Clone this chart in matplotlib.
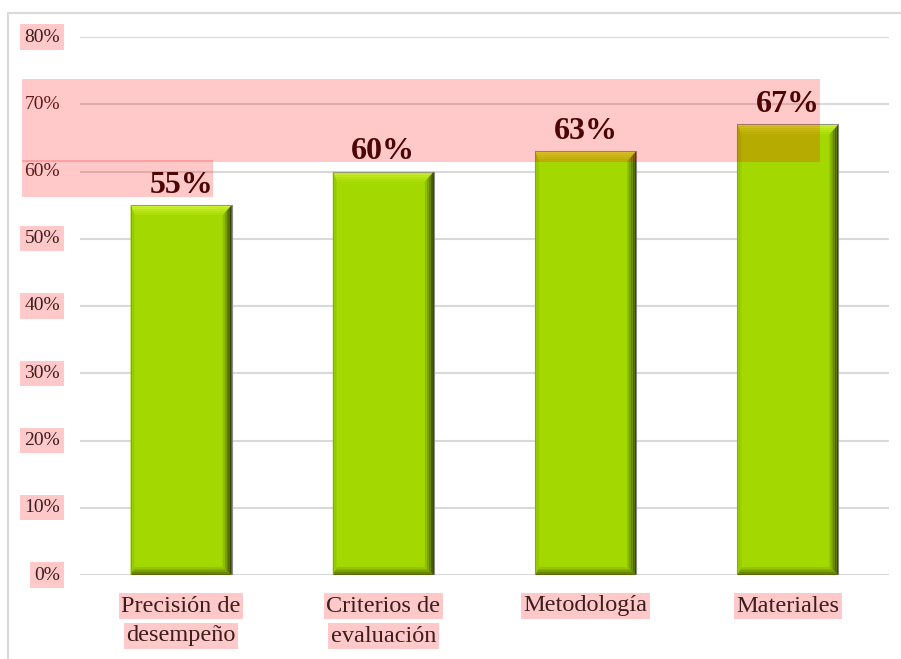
import numpy as np
import matplotlib
matplotlib.use('Agg')
import matplotlib.pyplot as plt
from matplotlib.patches import Polygon, Rectangle
from matplotlib.colors import to_rgb

categories = ['Precisión de\ndesempeño', 'Criterios de\nevaluación', 'Metodología', 'Materiales']
values = [0.55, 0.60, 0.63, 0.67]
value_labels = ['55%', '60%', '63%', '67%']
y_ticks = [0, 0.1, 0.2, 0.3, 0.4, 0.5, 0.6, 0.7, 0.8]
y_tick_labels = ['0%', '10%', '20%', '30%', '40%', '50%', '60%', '70%', '80%']

W, H = 901, 659
PINK = '#ffc9c9'
SERIF = ['Liberation Serif', 'DejaVu Serif']

fig = plt.figure(figsize=(W / 100, H / 100), dpi=100)
ax = fig.add_axes([80 / W, 1 - 575 / H, (889 - 80) / W, (575 - 37) / H])

# outer frame of the chart area (only top and left edges show)
fig.add_artist(Rectangle((8 / W, -0.05), 1.2, 1 - 13 / H + 0.05, transform=fig.transFigure,
                         facecolor='none', edgecolor='#d9d9d9', lw=1.5))

x = np.arange(len(categories))
bar_w = 0.5
ax.bar(x, values, width=bar_w, color='#a3d900', edgecolor='#9a9a9a', lw=0.8, zorder=3)

ax.set_xlim(-0.5, len(categories) - 0.5)
ax.set_ylim(0, 0.8)

# pixel sizes in data units, used for the bevel
px_x = len(categories) / (889 - 80)
px_y = 0.8 / (575 - 37)


def mix(c1, c2, t):
    a, b = np.array(to_rgb(c1)), np.array(to_rgb(c2))
    return tuple(a + (b - a) * t)


def bevel(xc, h):
    x0, x1 = xc - bar_w / 2, xc + bar_w / 2
    y0, y1 = 0, h
    bt, bb = 10 * px_y, 8 * px_y
    bl, br = 4 * px_x, 9 * px_x
    n = 5
    for i in range(n):
        t0, t1 = i / n, (i + 1) / n
        # top bevel, lighter at the edge
        col = mix('#d2f43a', '#a8dc00', (i + 0.5) / n)
        ax.add_patch(Polygon([(x0 + bl * t0, y1 - bt * t0), (x1 - br * t0, y1 - bt * t0),
                              (x1 - br * t1, y1 - bt * t1), (x0 + bl * t1, y1 - bt * t1)],
                             closed=True, facecolor=col, edgecolor='none', zorder=4))
        # right bevel, darkening towards the edge
        col = mix('#2c3800', '#98cc00', (i + 0.5) / n)
        ax.add_patch(Polygon([(x1 - br * t0, y1 - bt * t0), (x1 - br * t1, y1 - bt * t1),
                              (x1 - br * t1, y0 + bb * t1), (x1 - br * t0, y0 + bb * t0)],
                             closed=True, facecolor=col, edgecolor='none', zorder=4))
        # bottom bevel
        col = mix('#4a5e00', '#9ccf00', (i + 0.5) / n)
        ax.add_patch(Polygon([(x0 + bl * t0, y0 + bb * t0), (x1 - br * t0, y0 + bb * t0),
                              (x1 - br * t1, y0 + bb * t1), (x0 + bl * t1, y0 + bb * t1)],
                             closed=True, facecolor=col, edgecolor='none', zorder=4))
    # left bevel
    ax.add_patch(Polygon([(x0, y1), (x0 + bl, y1 - bt), (x0 + bl, y0 + bb), (x0, y0)],
                         closed=True, facecolor='#98ca00', edgecolor='none', zorder=4))
    ax.plot([x0, x1, x1, x0, x0], [y0, y0, y1, y1, y0], color='#8a8a8a', lw=0.6, zorder=5)


for xi, v in zip(x, values):
    bevel(xi, v)

# data labels
for xi, v, lab in zip(x, values, value_labels):
    ax.annotate(lab, (xi, v), xytext=(0, 4), textcoords='offset points',
                ha='center', va='bottom', fontsize=23, fontweight='bold',
                family=SERIF, color='#1c0606', zorder=6)

# grid
ax.set_yticks(y_ticks)
ax.set_yticklabels([])
ax.yaxis.grid(True, color='#d9d9d9', lw=1.5, zorder=0)
ax.set_axisbelow(True)
ax.tick_params(length=0)
ax.set_xticks([])
for s in ax.spines.values():
    s.set_visible(False)

# y tick labels (the ones inside the big highlight have no own box)
for yv, lab in zip(y_ticks, y_tick_labels):
    box = None if yv in (0.6, 0.7) else dict(facecolor=PINK, edgecolor='none', pad=3)
    ax.annotate(lab, (0, yv), xycoords=('axes fraction', 'data'), xytext=(-20, 0),
                textcoords='offset pixels', ha='right', va='center', fontsize=14,
                family=SERIF, color='#3c1e1e', bbox=box)

# x category labels, one highlight box per line
for xi, cat in zip(x, categories):
    for j, line in enumerate(cat.split('\n')):
        ax.annotate(line, (xi, 0), xycoords=('data', 'axes fraction'),
                    xytext=(0, -31 - 30 * j), textcoords='offset pixels',
                    ha='center', va='center', fontsize=17.5, family=SERIF,
                    color='#3c1e1e', annotation_clip=False,
                    bbox=dict(facecolor=PINK, edgecolor='none', pad=2))

# highlight overlays
fig.add_artist(Rectangle((22 / W, 1 - 162 / H), (820 - 22) / W, (162 - 79) / H,
                         transform=fig.transFigure, facecolor='red', alpha=0.21,
                         edgecolor='none', zorder=10))
fig.add_artist(Rectangle((22 / W, 1 - 197 / H), (213 - 22) / W, (197 - 160) / H,
                         transform=fig.transFigure, facecolor='red', alpha=0.21,
                         edgecolor='none', zorder=10))

fig.savefig('out.png', dpi=100)
